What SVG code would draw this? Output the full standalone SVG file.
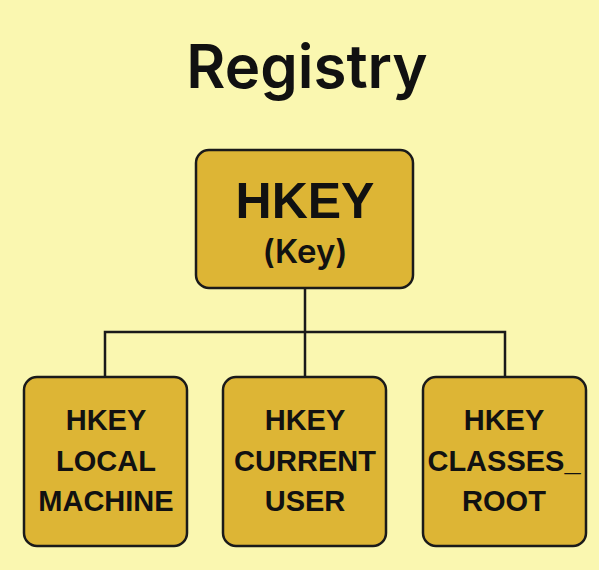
<svg xmlns="http://www.w3.org/2000/svg" width="599" height="570" viewBox="0 0 599 570">
<style>
.box{fill:#DDB535;stroke:#1a1a1a;stroke-width:2.5}
.t{font-family:"Liberation Sans",Arial,sans-serif;font-weight:bold;fill:#111;text-anchor:middle}
.c{fill:none;stroke:#1a1a1a;stroke-width:2.5}
</style>
<rect width="599" height="570" fill="#FAF7B0"/>
<text x="307" y="88" font-size="60" font-weight="600" fill="#111" text-anchor="middle" font-family="Inter,'Liberation Sans',sans-serif">Registry</text>
<g id="connectors">
<path class="c" d="M305 288V332M105 377V332H505V377M305 332V377"/>
</g>
<g id="root">
<rect class="box" x="196" y="150" width="217" height="138" rx="13"/>
<text class="t" x="305" y="218" font-size="50">HKEY</text>
<text x="305" y="263" font-size="33" font-weight="600" fill="#111" text-anchor="middle" font-family="Inter,'Liberation Sans',sans-serif">(Key)</text>
</g>
<g id="hklm">
<rect class="box" x="24" y="377" width="163" height="169" rx="13"/>
<text class="t" x="106" y="430" font-size="29">HKEY</text>
<text class="t" x="106" y="471" font-size="29">LOCAL</text>
<text class="t" x="106" y="511" font-size="29">MACHINE</text>
</g>
<g id="hkcu">
<rect class="box" x="223" y="377" width="163" height="169" rx="13"/>
<text class="t" x="305" y="430" font-size="29">HKEY</text>
<text class="t" x="305" y="471" font-size="29">CURRENT</text>
<text class="t" x="305" y="511" font-size="29">USER</text>
</g>
<g id="hkcr">
<rect class="box" x="423" y="377" width="163" height="169" rx="13"/>
<text class="t" x="504" y="430" font-size="29">HKEY</text>
<text class="t" x="504" y="471" font-size="29">CLASSES_</text>
<text class="t" x="504" y="511" font-size="29">ROOT</text>
</g>
</svg>
